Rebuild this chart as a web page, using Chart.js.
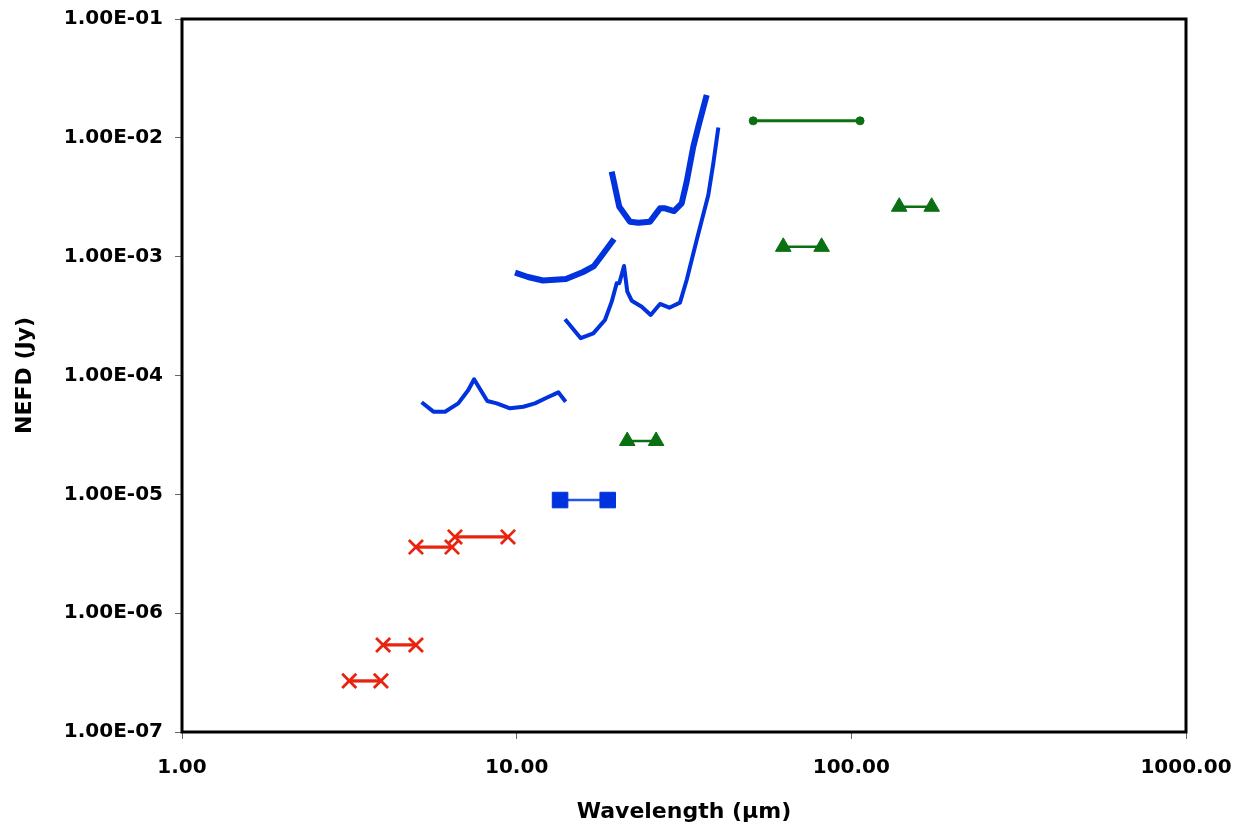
<!DOCTYPE html>
<html>
<head>
<meta charset="utf-8">
<script src="https://cdn.jsdelivr.net/npm/chart.js@4"></script>
<style>
  html, body { margin: 0; padding: 0; background: #fff; }
  #wrap { width: 1247px; height: 827px; }
</style>
</head>
<body>
<div id="wrap"><canvas id="c" width="1247" height="827"></canvas></div>
<script>
// ---- Data ----
const yTicks = [1e-7, 1e-6, 1e-5, 1e-4, 1e-3, 1e-2, 1e-1];
const xTicks = [1, 10, 100, 1000];

// Red X segments (wavelength pairs and NEFD)
const redX1 = [3.16, 3.93];  const redY1 = [2.69e-7, 2.69e-7];
const redX2 = [3.99, 5.00];  const redY2 = [5.40e-7, 5.40e-7];
const redX3 = [5.00, 6.41];  const redY3 = [3.60e-6, 3.60e-6];
const redX4 = [6.54, 9.42];  const redY4 = [4.38e-6, 4.38e-6];

// Blue square segment
const sqX = [13.48, 18.71];  const sqY = [8.95e-6, 8.95e-6];

// Green triangle segments
const triX1 = [21.4, 26.1];  const triY1 = [2.81e-5, 2.81e-5];
const triX2 = [62.6, 81.5];  const triY2 = [1.21e-3, 1.21e-3];
const triX3 = [139, 173.8];  const triY3 = [2.63e-3, 2.63e-3];

// Green circle segment
const circX = [50.9, 106.2]; const circY = [1.39e-2, 1.39e-2];

// Blue curves
const c1X = [5.20, 5.64, 6.11, 6.69, 7.17, 7.46, 8.17, 8.72, 9.55, 10.47, 11.34, 12.29, 13.32, 14.01];
const c1Y = [5.95e-5, 4.96e-5, 4.96e-5, 5.83e-5, 7.55e-5, 9.29e-5, 6.10e-5, 5.83e-5, 5.30e-5, 5.46e-5, 5.83e-5, 6.50e-5, 7.22e-5, 6.02e-5];

const c2X = [9.89, 10.81, 11.99, 14.04, 15.79, 17.02, 18.11, 19.54];
const c2Y = [7.33e-4, 6.74e-4, 6.30e-4, 6.49e-4, 7.43e-4, 8.34e-4, 1.053e-3, 1.408e-3];

const c3X = [19.23, 20.26, 21.81, 23.09, 25.03, 26.81, 27.75, 29.52, 31.12, 32.21, 33.71, 34.89, 36.97];
const c3Y = [5.19e-3, 2.63e-3, 1.97e-3, 1.93e-3, 1.97e-3, 2.55e-3, 2.55e-3, 2.42e-3, 2.81e-3, 4.27e-3, 8.42e-3, 1.24e-2, 2.29e-2];

const c4X = [13.95, 15.54, 16.94, 18.36, 19.23, 19.90, 20.26, 20.93, 21.41, 22.07, 23.64, 25.15, 26.81, 28.58, 30.76, 32.21, 34.51, 37.38, 38.69, 40.05];
const c4Y = [2.97e-4, 2.06e-4, 2.26e-4, 2.93e-4, 4.18e-4, 5.97e-4, 5.97e-4, 8.34e-4, 5.07e-4, 4.26e-4, 3.79e-4, 3.23e-4, 4.00e-4, 3.72e-4, 4.10e-4, 6.36e-4, 1.38e-3, 3.30e-3, 6.10e-3, 1.22e-2];

// ---- Build datasets ----
const pts = (xs, ys) => xs.map((x, i) => ({ x: x, y: ys[i] }));
const BLUE = '#0033DD', RED = '#E8230F', GREEN = '#0A7012';
const FONT = "'DejaVu Sans', Verdana, sans-serif";

function curve(xs, ys, w) {
  return { data: pts(xs, ys), showLine: true, borderColor: BLUE, borderWidth: w,
           pointRadius: 0, borderJoinStyle: 'round', tension: 0 };
}
function seg(xs, ys, color, lw, style, r, bw, fill) {
  return { data: pts(xs, ys), showLine: true, borderColor: color, borderWidth: lw,
           pointStyle: style, pointRadius: r, pointBorderWidth: bw,
           pointBorderColor: fill, pointBackgroundColor: fill, pointHoverRadius: r };
}

const datasets = [
  curve(c1X, c1Y, 4),
  curve(c2X, c2Y, 6),
  curve(c3X, c3Y, 6),
  curve(c4X, c4Y, 4),
  seg(redX1, redY1, RED, 3.3, 'crossRot', 10, 2.8, RED),
  seg(redX2, redY2, RED, 3.3, 'crossRot', 10, 2.8, RED),
  seg(redX3, redY3, RED, 3.3, 'crossRot', 10, 2.8, RED),
  seg(redX4, redY4, RED, 3.3, 'crossRot', 10, 2.8, RED),
  seg(sqX, sqY, '#2255EE', 2.5, 'rect', 11, 1, BLUE),
  seg(triX1, triY1, GREEN, 2.5, 'triangle', 9, 1, GREEN),
  seg(triX2, triY2, GREEN, 2.5, 'triangle', 9, 1, GREEN),
  seg(triX3, triY3, GREEN, 2.5, 'triangle', 9, 1, GREEN),
  seg(circX, circY, GREEN, 3, 'circle', 4, 1, GREEN)
];

const frame = {
  id: 'frame',
  beforeDatasetsDraw(chart) {
    const a = chart.chartArea, ctx = chart.ctx;
    ctx.save();
    ctx.strokeStyle = '#000';
    ctx.lineWidth = 3;
    ctx.strokeRect(a.left, a.top, a.right - a.left, a.bottom - a.top);
    ctx.restore();
  }
};

function fmtY(v) {
  const e = Math.round(Math.log10(v));
  const sign = e < 0 ? '-' : '+';
  const a = Math.abs(e);
  return '1.00E' + sign + (a < 10 ? '0' + a : '' + a);
}

new Chart(document.getElementById('c'), {
  type: 'scatter',
  data: { datasets: datasets },
  options: {
    responsive: false,
    animation: false,
    devicePixelRatio: 1,
    layout: { padding: { top: 19, right: 61, left: 0, bottom: 0 } },
    plugins: { legend: { display: false }, tooltip: { enabled: false } },
    scales: {
      x: {
        type: 'logarithmic', min: 1, max: 1000,
        afterBuildTicks: s => { s.ticks = xTicks.map(v => ({ value: v })); },
        afterFit: s => { s.height = 95; s.paddingLeft = 0; s.paddingRight = 0; },
        ticks: { callback: v => Number(v).toFixed(2), color: '#000',
                 font: { family: FONT, size: 20, weight: 'bold' }, padding: 17, maxRotation: 0, autoSkip: false },
        grid: { drawOnChartArea: false, drawTicks: true, tickLength: 7, tickColor: '#666', tickWidth: 1 },
        border: { display: false },
        title: { display: true, text: 'Wavelength (µm)', color: '#000',
                 font: { family: FONT, size: 22, weight: 'bold' }, padding: { top: 0, bottom: 2 } }
      },
      y: {
        type: 'logarithmic', min: 1e-7, max: 1e-1,
        afterBuildTicks: s => { s.ticks = yTicks.map(v => ({ value: v })); },
        afterFit: s => { s.width = 182; s.paddingTop = 0; s.paddingBottom = 0; },
        ticks: { callback: v => fmtY(v), color: '#000',
                 font: { family: FONT, size: 20, weight: 'bold' }, padding: 12, autoSkip: false },
        grid: { drawOnChartArea: false, drawTicks: true, tickLength: 7, tickColor: '#666', tickWidth: 1 },
        border: { display: false },
        title: { display: true, text: 'NEFD (Jy)', color: '#000',
                 font: { family: FONT, size: 22, weight: 'bold' }, padding: { top: 12, bottom: 0 } }
      }
    }
  },
  plugins: [frame]
});
</script>
</body>
</html>
